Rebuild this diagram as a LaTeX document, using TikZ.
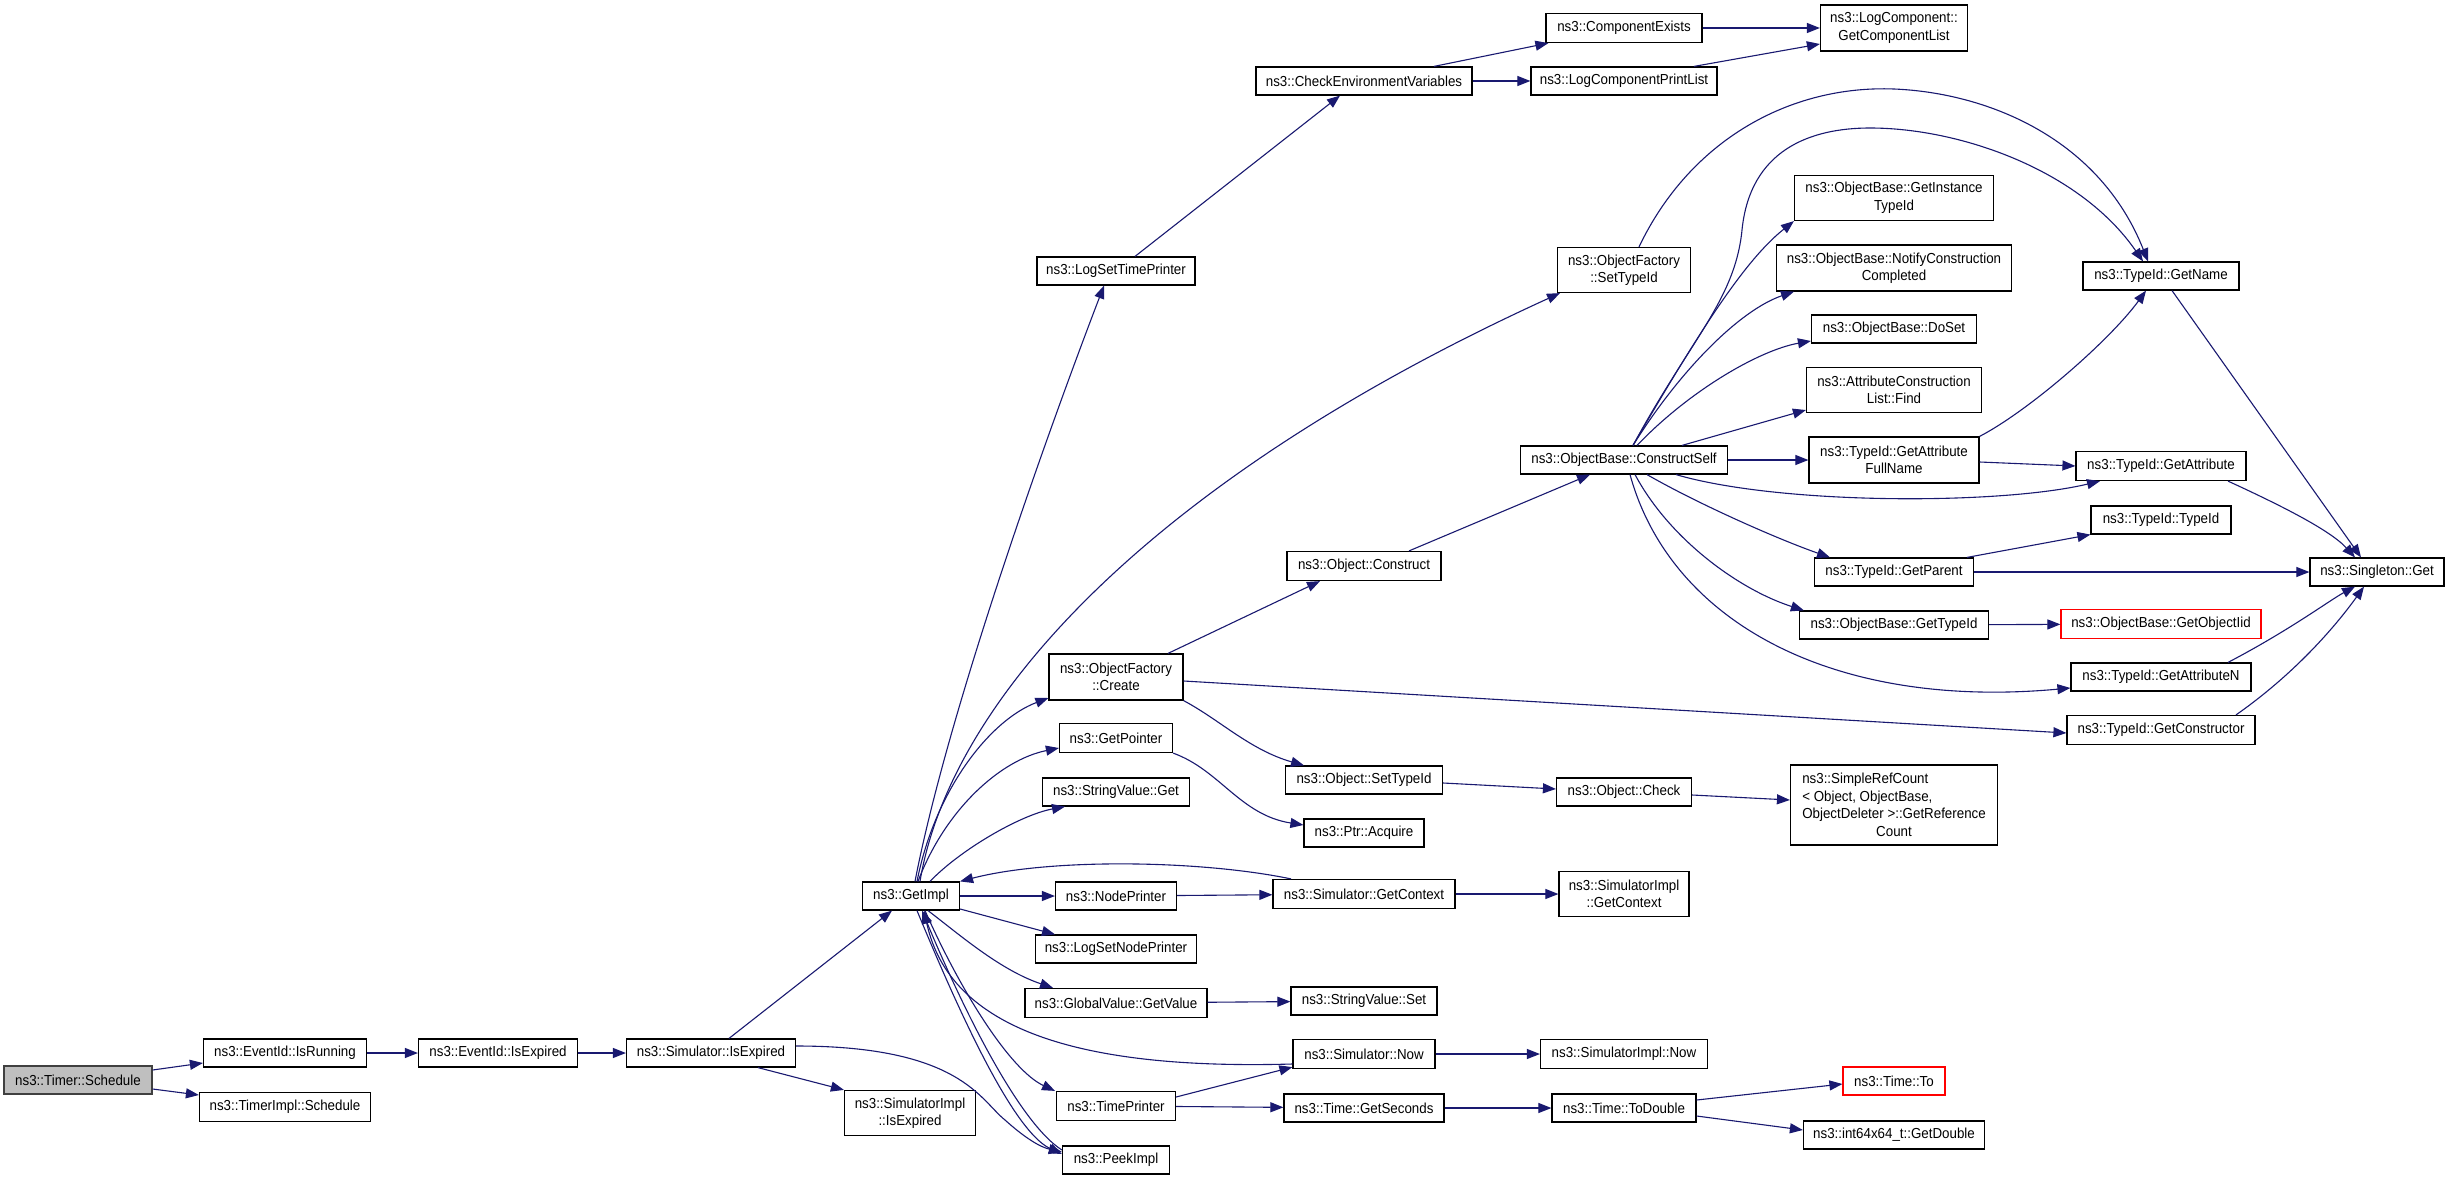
\documentclass[tikz,border=0pt]{standalone}
\usepackage{fontspec}
\usepackage{calc}
\usetikzlibrary{arrows.meta}
\newfontfamily\nodeff[FakeStretch=0.92]{Liberation Sans}
\definecolor{edgeblue}{HTML}{191970}
\definecolor{rootfill}{HTML}{BFBFBF}
\definecolor{trunc}{HTML}{FF0000}
\newcommand\srline[1]{\makebox[\widthof{ObjectDeleter >::GetReference}][l]{#1}}
\begin{document}
\begin{tikzpicture}[x=1pt,y=-1pt,
  box/.style={draw=black, line width=1.2pt, inner sep=0pt, align=center,
    font=\nodeff\fontsize{14.5}{17.5}\selectfont},
  rootbox/.style={box, fill=rootfill, draw=black!75},
  redbox/.style={box, draw=trunc},
  cg/.style={draw=edgeblue, line width=1.1pt, -{Triangle[length=13pt,width=10pt]}}]
\fill[white] (0,0) rectangle (2451,1180);
\useasboundingbox (0,0) rectangle (2451,1180);
% nodes
\node[rootbox, minimum width=148, minimum height=28] (timer) at (78,1080) {ns3::Timer::Schedule};
\node[box, minimum width=163, minimum height=28] (isrun) at (285,1053) {ns3::EventId::IsRunning};
\node[box, minimum width=171, minimum height=29] (timerimpl) at (285,1107) {ns3::TimerImpl::Schedule};
\node[box, minimum width=159, minimum height=28] (evexp) at (498,1053) {ns3::EventId::IsExpired};
\node[box, minimum width=169, minimum height=28] (simexp) at (711,1053) {ns3::Simulator::IsExpired};
\node[box, minimum width=131, minimum height=45] (simimplexp) at (910,1113) {ns3::SimulatorImpl\\::IsExpired};
\node[box, minimum width=97, minimum height=28] (getimpl) at (911,896) {ns3::GetImpl};
\node[box, minimum width=107, minimum height=28] (peek) at (1116,1160) {ns3::PeekImpl};
\node[box, minimum width=158, minimum height=28] (logsettime) at (1116,271) {ns3::LogSetTimePrinter};
\node[box, minimum width=216, minimum height=28] (checkenv) at (1364,81) {ns3::CheckEnvironmentVariables};
\node[box, minimum width=156, minimum height=29] (compexists) at (1624,28) {ns3::ComponentExists};
\node[box, minimum width=186, minimum height=28] (logcomp) at (1624,81) {ns3::LogComponentPrintList};
\node[box, minimum width=147, minimum height=46] (getcomplist) at (1894,28) {ns3::LogComponent::\\GetComponentList};
\node[box, minimum width=133, minimum height=45] (ofsettype) at (1624,270) {ns3::ObjectFactory\\::SetTypeId};
\node[box, minimum width=154, minimum height=29] (objconstruct) at (1364,566) {ns3::Object::Construct};
\node[box, minimum width=134, minimum height=46] (ofcreate) at (1116,677) {ns3::ObjectFactory\\::Create};
\node[box, minimum width=113, minimum height=29] (getpointer) at (1116,738) {ns3::GetPointer};
\node[box, minimum width=147, minimum height=28] (svget) at (1116,792) {ns3::StringValue::Get};
\node[box, minimum width=121, minimum height=28] (nodeprinter) at (1116,896) {ns3::NodePrinter};
\node[box, minimum width=161, minimum height=28] (logsetnode) at (1116,949) {ns3::LogSetNodePrinter};
\node[box, minimum width=182, minimum height=29] (gvget) at (1116,1003) {ns3::GlobalValue::GetValue};
\node[box, minimum width=119, minimum height=29] (timeprinter) at (1116,1106) {ns3::TimePrinter};
\node[box, minimum width=182, minimum height=29] (simgetctx) at (1364,894) {ns3::Simulator::GetContext};
\node[box, minimum width=130, minimum height=45] (simimplctx) at (1624,894) {ns3::SimulatorImpl\\::GetContext};
\node[box, minimum width=146, minimum height=28] (svset) at (1364,1001) {ns3::StringValue::Set};
\node[box, minimum width=142, minimum height=29] (simnow) at (1364,1054) {ns3::Simulator::Now};
\node[box, minimum width=167, minimum height=29] (simimplnow) at (1624,1054) {ns3::SimulatorImpl::Now};
\node[box, minimum width=160, minimum height=28] (getseconds) at (1364,1108) {ns3::Time::GetSeconds};
\node[box, minimum width=144, minimum height=28] (todouble) at (1624,1108) {ns3::Time::ToDouble};
\node[redbox, minimum width=102, minimum height=28] (timeto) at (1894,1081) {ns3::Time::To};
\node[box, minimum width=181, minimum height=28] (getdouble) at (1894,1135) {ns3::int64x64\_t::GetDouble};
\node[box, minimum width=157, minimum height=28] (objsettype) at (1364,780) {ns3::Object::SetTypeId};
\node[box, minimum width=120, minimum height=28] (ptracq) at (1364,833) {ns3::Ptr::Acquire};
\node[box, minimum width=135, minimum height=28] (objcheck) at (1624,792) {ns3::Object::Check};
\node[box, minimum width=207, minimum height=80] (simpleref) at (1894,805) {\srline{ns3::SimpleRefCount}\\\srline{< Object, ObjectBase,}\\ObjectDeleter >::GetReference\\Count};
\node[box, minimum width=207, minimum height=28] (constructself) at (1624,460) {ns3::ObjectBase::ConstructSelf};
\node[box, minimum width=199, minimum height=45] (getinst) at (1894,198) {ns3::ObjectBase::GetInstance\\TypeId};
\node[box, minimum width=235, minimum height=46] (notify) at (1894,268) {ns3::ObjectBase::NotifyConstruction\\Completed};
\node[box, minimum width=165, minimum height=28] (doset) at (1894,329) {ns3::ObjectBase::DoSet};
\node[box, minimum width=175, minimum height=45] (find) at (1894,390) {ns3::AttributeConstruction\\List::Find};
\node[box, minimum width=170, minimum height=46] (getattrfull) at (1894,460) {ns3::TypeId::GetAttribute\\FullName};
\node[box, minimum width=156, minimum height=28] (getname) at (2161,276) {ns3::TypeId::GetName};
\node[box, minimum width=170, minimum height=29] (getattr) at (2161,466) {ns3::TypeId::GetAttribute};
\node[box, minimum width=140, minimum height=28] (typeidctor) at (2161,520) {ns3::TypeId::TypeId};
\node[box, minimum width=134, minimum height=28] (singleton) at (2377,572) {ns3::Singleton::Get};
\node[box, minimum width=159, minimum height=28] (getparent) at (1894,572) {ns3::TypeId::GetParent};
\node[box, minimum width=189, minimum height=28] (obgettypeid) at (1894,625) {ns3::ObjectBase::GetTypeId};
\node[redbox, minimum width=200, minimum height=29] (getobjiid) at (2161,624) {ns3::ObjectBase::GetObjectIid};
\node[box, minimum width=180, minimum height=28] (getattrn) at (2161,677) {ns3::TypeId::GetAttributeN};
\node[box, minimum width=188, minimum height=29] (getctor) at (2161,730) {ns3::TypeId::GetConstructor};
% edges
\draw[cg] ([yshift=10pt]timer.east) -- ([yshift=-10pt]isrun.west);
\draw[cg] ([yshift=-9pt]timer.east) -- ([yshift=12pt]timerimpl.west);
\draw[cg] (isrun) -- (evexp);
\draw[cg] (evexp) -- (simexp);
\draw[cg] ([xshift=18pt]simexp.north) -- ([xshift=-19pt]getimpl.south);
\draw[cg] ([xshift=47pt]simexp.south) -- (simimplexp.north west);
\draw[cg] ([yshift=7pt]simexp.east) .. controls (960,1046) and (980,1100) .. (1005,1120) .. controls (1025,1138) and (1040,1147) .. ([yshift=8pt]peek.west);
\draw[cg] ([xshift=6pt]getimpl.south) .. controls (950,990) and (1010,1130) .. ([yshift=6pt]peek.west);
\draw[cg] ([yshift=10pt]peek.west) .. controls (1015,1120) and (955,990) .. ([xshift=11pt]getimpl.south);
\draw[cg] ([xshift=4pt]getimpl.north) .. controls (950,700) and (1060,400) .. ([xshift=-12pt]logsettime.south);
\draw[cg] ([xshift=9pt]getimpl.north) .. controls (950,700) and (1150,480) .. ([xshift=-64pt]ofsettype.south);
\draw[cg] ([xshift=6pt]getimpl.north) .. controls (935,790) and (990,720) .. ([yshift=-21pt]ofcreate.west);
\draw[cg] ([xshift=7pt]getimpl.north) .. controls (945,810) and (1000,760) .. ([yshift=-10pt]getpointer.west);
\draw[cg] ([xshift=19pt]getimpl.north) .. controls (960,850) and (1020,815) .. ([xshift=-51pt]svget.south);
\draw[cg] (getimpl) -- (nodeprinter);
\draw[cg] ([yshift=-13pt]getimpl.east) -- ([xshift=-61pt]logsetnode.north);
\draw[cg] ([xshift=17pt]getimpl.south) .. controls (960,935) and (1000,970) .. ([xshift=-63pt]gvget.north);
\draw[cg] ([xshift=14pt]getimpl.south) .. controls (960,990) and (1010,1070) .. ([xshift=-61pt]timeprinter.north);
\draw[cg] ([yshift=-10pt]simnow.west) .. controls (1080,1070) and (950,1030) .. ([xshift=13pt]getimpl.south);
\draw[cg] ([xshift=-73pt]simgetctx.north) .. controls (1200,860) and (1050,858) .. (getimpl.north east);
\draw[cg] (nodeprinter) -- (simgetctx);
\draw[cg] (simgetctx) -- (simimplctx);
\draw[cg] (gvget) -- (svset);
\draw[cg] ([yshift=9pt]timeprinter.east) -- ([yshift=2pt]simnow.south west);
\draw[cg] (timeprinter) -- (getseconds);
\draw[cg] (simnow) -- (simimplnow);
\draw[cg] (getseconds) -- (todouble);
\draw[cg] ([yshift=8pt]todouble.east) -- ([yshift=-3pt]timeto.west);
\draw[cg] ([yshift=-8pt]todouble.east) -- ([yshift=5pt]getdouble.west);
\draw[cg] ([xshift=19pt]logsettime.north) -- ([xshift=-24pt]checkenv.south);
\draw[cg] ([xshift=70pt]checkenv.north) -- ([xshift=3pt]compexists.south west);
\draw[cg] (checkenv) -- (logcomp);
\draw[cg] (compexists) -- (getcomplist);
\draw[cg] ([xshift=70pt]logcomp.north) -- ([yshift=-16pt]getcomplist.west);
\draw[cg] ([xshift=15pt]ofsettype.north) .. controls (1690,140) and (1790,85) .. (1894,89) .. controls (1990,93) and (2100,140) .. ([xshift=-13pt]getname.north);
\draw[cg] ([xshift=9pt]constructself.north) .. controls (1690,340) and (1735,300) .. (1742,230) .. controls (1750,150) and (1810,128) .. (1870,128) .. controls (1960,128) and (2080,170) .. ([xshift=-18pt]getname.north);
\draw[cg] ([xshift=9pt]constructself.north) .. controls (1700,330) and (1745,260) .. (getinst.south west);
\draw[cg] ([xshift=9pt]constructself.north) .. controls (1680,370) and (1740,310) .. ([xshift=-100pt]notify.south);
\draw[cg] ([xshift=13pt]constructself.north) .. controls (1690,390) and (1760,350) .. ([yshift=-12pt]doset.west);
\draw[cg] ([xshift=58pt]constructself.north) -- ([yshift=-20pt]find.west);
\draw[cg] (constructself) -- (getattrfull);
\draw[cg] ([xshift=52pt]constructself.south) .. controls (1780,505) and (2000,505) .. ([xshift=-61pt]getattr.south);
\draw[cg] ([xshift=23pt]constructself.south) .. controls (1700,505) and (1780,540) .. ([xshift=-64pt]getparent.north);
\draw[cg] ([xshift=11pt]constructself.south) .. controls (1670,540) and (1740,590) .. ([xshift=5pt]obgettypeid.north west);
\draw[cg] ([xshift=6pt]constructself.south) .. controls (1670,620) and (1830,710) .. ([yshift=-11pt]getattrn.west);
\draw[cg] (getattrfull.north east) .. controls (2030,410) and (2110,340) .. ([xshift=-15pt]getname.south);
\draw[cg] ([yshift=-2pt]getattrfull.east) -- (getattr.west);
\draw[cg] ([xshift=11pt]getname.south) -- ([xshift=-16pt]singleton.north);
\draw[cg] ([xshift=67pt]getattr.south) .. controls (2280,505) and (2330,530) .. ([xshift=-22pt]singleton.north);
\draw[cg] ([xshift=73pt]getparent.north) -- (typeidctor.south west);
\draw[cg] (getparent) -- (singleton);
\draw[cg] (obgettypeid) -- (getobjiid);
\draw[cg] ([xshift=67pt]getattrn.north) .. controls (2290,630) and (2330,600) .. ([xshift=-22pt]singleton.south);
\draw[cg] ([xshift=75pt]getctor.north) .. controls (2300,670) and (2340,620) .. ([xshift=-13pt]singleton.south);
\draw[cg] ([xshift=52pt]ofcreate.north) -- ([xshift=-44pt]objconstruct.south);
\draw[cg] ([xshift=45pt]objconstruct.north) -- ([xshift=-34pt]constructself.south);
\draw[cg] (ofcreate.south east) .. controls (1220,720) and (1250,750) .. ([xshift=-60pt]objsettype.north);
\draw[cg] ([yshift=-4pt]ofcreate.east) -- ([yshift=-3pt]getctor.west);
\draw[cg] (getpointer.south east) .. controls (1220,770) and (1240,815) .. ([yshift=8pt]ptracq.west);
\draw[cg] ([yshift=-3pt]objsettype.east) -- ([yshift=3pt]objcheck.west);
\draw[cg] ([yshift=-3pt]objcheck.east) -- ([yshift=5pt]simpleref.west);
\end{tikzpicture}
\end{document}
